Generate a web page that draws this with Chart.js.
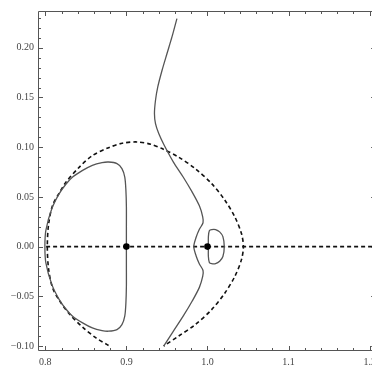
<!DOCTYPE html>
<html>
<head>
<meta charset="utf-8">
<script src="https://cdn.jsdelivr.net/npm/chart.js@4/dist/chart.umd.min.js"></script>
<style>
html,body{margin:0;padding:0;overflow:hidden;background:#fff;}
#wrap{width:381px;height:366px;}
</style>
</head>
<body>
<div id="wrap"><canvas id="c" width="381" height="366"></canvas></div>
<script>
// ---- data ----
const xMajorTicks = [0.8, 0.9, 1.0, 1.1, 1.2];
const xTickLabels = ["0.8", "0.9", "1.0", "1.1", "1.2"];
const xMinorTicks = [0.80,0.82,0.84,0.86,0.88,0.90,0.92,0.94,0.96,0.98,1.00,1.02,1.04,1.06,1.08,1.10,1.12,1.14,1.16,1.18,1.20];
const yMajorTicks = [-0.10, -0.05, 0.00, 0.05, 0.10, 0.15, 0.20];
const yTickLabels = ["\u22120.10", "\u22120.05", "0.00", "0.05", "0.10", "0.15", "0.20"];
const yMinorTicks = [-0.10,-0.09,-0.08,-0.07,-0.06,-0.05,-0.04,-0.03,-0.02,-0.01,0.00,0.01,0.02,0.03,0.04,0.05,0.06,0.07,0.08,0.09,0.10,0.11,0.12,0.13,0.14,0.15,0.16,0.17,0.18,0.19,0.20,0.21,0.22,0.23];

// dashed closed curve (clipped at y = -0.1)
const dashLoopX = [0.878,0.862,0.846,0.830,0.818,0.809,0.804,0.8025,0.804,0.809,0.818,0.8256,0.842,0.858,0.878,0.895,0.913,0.930,0.944,0.9644,0.9848,1.0051,1.0215,1.0338,1.0419,1.0443,1.0419,1.0338,1.0215,1.0051,0.9848,0.9644,0.946];
const dashLoopY = [-0.0995,-0.0915,-0.081,-0.068,-0.055,-0.0415,-0.022,0,0.022,0.0415,0.055,0.065,0.080,0.0915,0.0995,0.1040,0.1053,0.1030,0.0986,0.090,0.0785,0.0634,0.0466,0.0298,0.0131,0,-0.0131,-0.0298,-0.0466,-0.0634,-0.0785,-0.090,-0.100];

// dashed horizontal line
const dashLineX = [0.801, 1.208];
const dashLineY = [0, 0];

// solid loop around x = 0.9
const leftLoopX = [0.9,0.9,0.9,0.8994,0.898,0.8945,0.8884,0.878,0.870,0.858,0.846,0.8337,0.8256,0.817,0.808,0.8007,0.7995,0.8007,0.808,0.817,0.8256,0.8337,0.846,0.858,0.870,0.878,0.8884,0.8945,0.898,0.8994,0.9,0.9,0.9];
const leftLoopY = [0,0.020,0.040,0.0566,0.070,0.0785,0.0835,0.0851,0.0845,0.0818,0.0767,0.070,0.063,0.053,0.038,0.0164,0,-0.0164,-0.038,-0.053,-0.063,-0.070,-0.0767,-0.0818,-0.0845,-0.0851,-0.0835,-0.0785,-0.070,-0.0566,-0.040,-0.020,0];

// long solid curve
const longX = [0.9623,0.9562,0.950,0.944,0.9387,0.9359,0.9346,0.9359,0.9399,0.946,0.958,0.970,0.981,0.990,0.9941,0.9945,0.990,0.986,0.9831,0.986,0.990,0.9945,0.9941,0.990,0.981,0.970,0.958,0.946];
const longY = [0.2294,0.2109,0.194,0.1774,0.1606,0.1472,0.1338,0.1237,0.1137,0.1030,0.085,0.070,0.055,0.041,0.030,0.024,0.0174,0.0094,0,-0.0094,-0.0174,-0.024,-0.030,-0.041,-0.055,-0.070,-0.085,-0.100];

// small solid loop around x = 1.0
const smallLoopX = [1.0011,1.0011,1.0023,1.0052,1.0100,1.0150,1.0190,1.0207,1.0190,1.0150,1.0100,1.0052,1.0023,1.0011,1.0011];
const smallLoopY = [0,0.010,0.0160,0.0172,0.0172,0.0148,0.0100,0,-0.0100,-0.0148,-0.0172,-0.0172,-0.0160,-0.010,0];

// points
const dotX = [0.9, 1.0];
const dotY = [0, 0];

const pts = (xs, ys) => xs.map((x, i) => ({x: x, y: ys[i]}));

const solidStyle = {showLine: true, pointRadius: 0, borderColor: '#555', borderWidth: 1.3, tension: 0.3, fill: false};
const dashStyle = {showLine: true, pointRadius: 0, borderColor: '#111', borderWidth: 1.6, borderDash: [4, 3], tension: 0.3, fill: false};

const framePlugin = {
  id: 'frame',
  afterDatasetsDraw(chart) {
    const ctx = chart.ctx, a = chart.chartArea, sx = chart.scales.x, sy = chart.scales.y;
    ctx.save();
    ctx.strokeStyle = '#555';
    ctx.lineWidth = 1;
    ctx.beginPath();
    ctx.rect(a.left + 0.5, a.top + 0.5, a.right - a.left - 1, a.bottom - a.top - 1);
    ctx.stroke();
    ctx.beginPath();
    const isMajorX = v => xMajorTicks.some(m => Math.abs(m - v) < 1e-6);
    const isMajorY = v => yMajorTicks.some(m => Math.abs(m - v) < 1e-6);
    xMinorTicks.forEach(v => {
      const p = Math.round(sx.getPixelForValue(v)) + 0.5;
      const L = isMajorX(v) ? 5 : 3;
      ctx.moveTo(p, a.bottom); ctx.lineTo(p, a.bottom - L);
      ctx.moveTo(p, a.top); ctx.lineTo(p, a.top + L);
    });
    yMinorTicks.forEach(v => {
      const p = Math.round(sy.getPixelForValue(v)) + 0.5;
      const L = isMajorY(v) ? 5 : 3;
      ctx.moveTo(a.left, p); ctx.lineTo(a.left + L, p);
      ctx.moveTo(a.right, p); ctx.lineTo(a.right - L, p);
    });
    ctx.stroke();
    ctx.restore();
  }
};

new Chart(document.getElementById('c'), {
  type: 'scatter',
  data: {
    datasets: [
      {data: pts(dotX, dotY), showLine: false, pointRadius: 3.3, pointBackgroundColor: '#000', pointBorderColor: '#000', pointBorderWidth: 0},
      Object.assign({data: pts(leftLoopX, leftLoopY)}, solidStyle),
      Object.assign({data: pts(longX, longY)}, solidStyle),
      Object.assign({data: pts(smallLoopX, smallLoopY)}, solidStyle),
      Object.assign({data: pts(dashLoopX, dashLoopY)}, dashStyle),
      Object.assign({data: pts(dashLineX, dashLineY)}, dashStyle, {tension: 0})
    ]
  },
  options: {
    responsive: false,
    animation: false,
    layout: {padding: {left: 0, right: 1, top: 11, bottom: 0}},
    plugins: {legend: {display: false}, tooltip: {enabled: false}},
    scales: {
      x: {
        type: 'linear', min: 0.791, max: 1.208,
        grid: {display: false, drawTicks: false},
        border: {display: false},
        afterBuildTicks: s => { s.ticks = xMajorTicks.map(v => ({value: v})); },
        afterFit: s => { s.height = 15; },
        ticks: {
          autoSkip: false, maxRotation: 0, padding: 5, color: '#444',
          font: {family: 'Liberation Serif', size: 10},
          callback: v => { const i = xMajorTicks.findIndex(m => Math.abs(m - v) < 1e-6); return i >= 0 ? xTickLabels[i] : ''; }
        }
      },
      y: {
        type: 'linear', min: -0.105, max: 0.237,
        grid: {display: false, drawTicks: false},
        border: {display: false},
        afterBuildTicks: s => { s.ticks = yMajorTicks.map(v => ({value: v})); },
        afterFit: s => { s.width = 38; },
        ticks: {
          autoSkip: false, padding: 4, color: '#444',
          font: {family: 'Liberation Serif', size: 10},
          callback: v => { const i = yMajorTicks.findIndex(m => Math.abs(m - v) < 1e-6); return i >= 0 ? yTickLabels[i] : ''; }
        }
      }
    }
  },
  plugins: [framePlugin]
});
</script>
</body>
</html>
